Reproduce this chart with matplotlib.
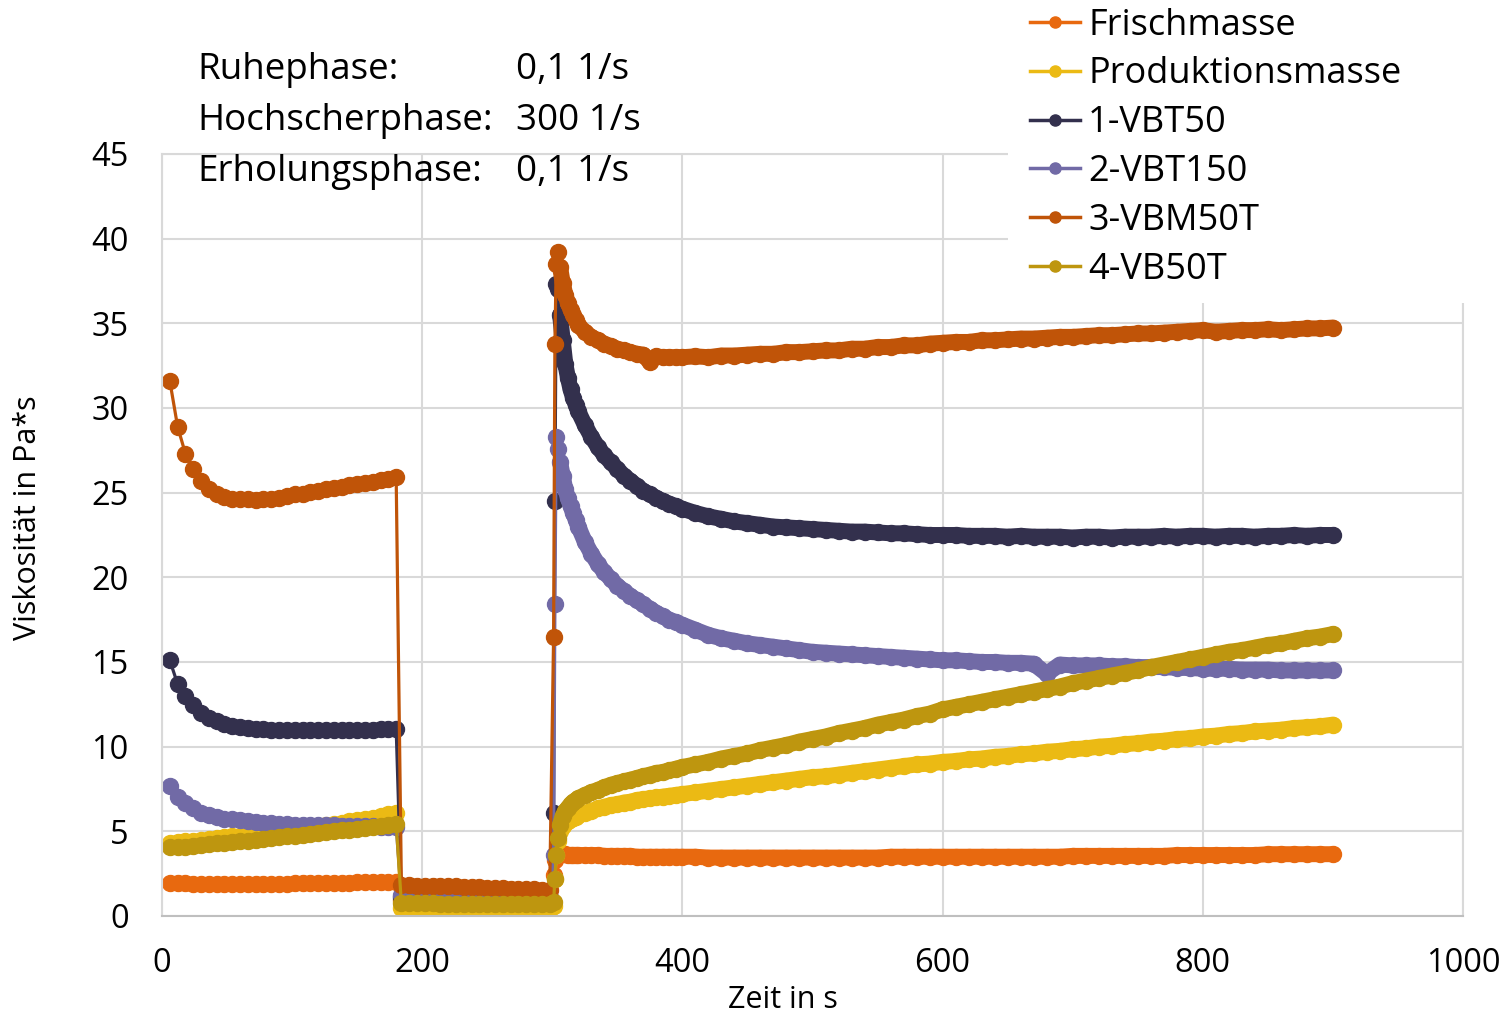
import matplotlib
matplotlib.use("Agg")
import matplotlib.pyplot as plt
from matplotlib.lines import Line2D
from matplotlib.patches import Rectangle

plt.rcParams["font.family"] = ["Open Sans", "DejaVu Sans"]

# Messzeitpunkte der drei Phasen (s)
t_ruhe = list(range(6, 181, 6))
t_hoch = list(range(184, 299, 6))
t_erh = ([301, 302, 303, 304, 306, 308, 310, 312, 314, 316, 318]
         + list(range(320, 400, 5)) + list(range(400, 901, 10)))
zeit = t_ruhe + t_hoch + t_erh

# Viskosität in Pa*s: Ruhephase, Hochscherphase, Erholungsphase
frischmasse = [
    1.95, 1.95, 1.95, 1.9, 1.9, 1.9, 1.9, 1.9, 1.9, 1.9,
    1.9, 1.9, 1.9, 1.9, 1.9, 1.9, 1.95, 1.95, 1.95, 1.95,
    1.95, 1.95, 1.95, 1.95, 2.0, 2.0, 2.0, 2.0, 2.0, 2.0,
    0.95, 0.95, 0.95, 0.9, 0.9, 0.9, 0.9, 0.9, 0.9, 0.9,
    0.9, 0.9, 0.85, 0.85, 0.85, 0.85, 0.85, 0.85, 0.85, 0.85,
    2.4, 3.3, 3.6, 3.65, 3.65, 3.65, 3.65, 3.6, 3.6, 3.6, 3.6,
    3.6, 3.6, 3.6, 3.6, 3.55, 3.55, 3.55, 3.55, 3.55, 3.5, 3.5, 3.5, 3.5, 3.5, 3.5, 3.5,
    3.5, 3.5,
    3.45, 3.45, 3.45, 3.45, 3.45, 3.45, 3.45, 3.45, 3.45, 3.45,
    3.45, 3.45, 3.45, 3.45, 3.5, 3.5, 3.5, 3.5, 3.5, 3.5,
    3.5, 3.5, 3.5, 3.5, 3.5, 3.5, 3.5, 3.5, 3.55, 3.55,
    3.55, 3.55, 3.55, 3.55, 3.55, 3.55, 3.6, 3.6, 3.6, 3.6,
    3.6, 3.6, 3.6, 3.65, 3.65, 3.65, 3.65, 3.65, 3.65,
]
produktionsmasse = [
    4.3, 4.35, 4.4, 4.45, 4.5, 4.55, 4.6, 4.65, 4.7, 4.75,
    4.8, 4.85, 4.9, 4.95, 5.0, 5.05, 5.1, 5.2, 5.25, 5.3,
    5.35, 5.45, 5.5, 5.6, 5.65, 5.75, 5.8, 5.9, 6.0, 6.1,
    0.45, 0.45, 0.45, 0.45, 0.45, 0.45, 0.45, 0.45, 0.4, 0.4,
    0.4, 0.4, 0.4, 0.4, 0.4, 0.4, 0.4, 0.4, 0.4, 0.4,
    0.6, 2.2, 3.6, 4.4, 5.0, 5.3, 5.5, 5.6, 5.7, 5.8, 5.85,
    5.95, 6.1, 6.2, 6.35, 6.45, 6.55, 6.6, 6.7, 6.75, 6.85, 6.9, 6.95, 7.0, 7.05, 7.1, 7.15,
    7.2, 7.3,
    7.4, 7.5, 7.6, 7.7, 7.8, 7.9, 8.0, 8.1, 8.2, 8.25,
    8.35, 8.45, 8.55, 8.65, 8.75, 8.85, 8.95, 9.0, 9.1, 9.15,
    9.25, 9.3, 9.4, 9.45, 9.55, 9.6, 9.7, 9.75, 9.85, 9.9,
    10.0, 10.05, 10.15, 10.2, 10.3, 10.35, 10.45, 10.5, 10.6, 10.65,
    10.75, 10.8, 10.9, 10.95, 11.0, 11.1, 11.15, 11.2, 11.3,
]
vbt50 = [
    15.1, 13.7, 13.0, 12.45, 12.0, 11.7, 11.5, 11.35, 11.25, 11.15,
    11.1, 11.05, 11.05, 11.0, 11.0, 11.0, 11.0, 11.0, 11.0, 11.0,
    11.0, 11.0, 11.0, 11.0, 11.0, 11.0, 11.0, 11.05, 11.05, 11.05,
    1.1, 1.1, 1.05, 1.05, 1.05, 1.05, 1.0, 1.0, 1.0, 1.0,
    1.0, 1.0, 1.0, 0.95, 0.95, 0.95, 0.95, 0.95, 0.95, 0.95,
    6.1, 24.5, 37.3, 37.0, 35.5, 34.0, 32.6, 31.8, 31.1, 30.6, 30.2,
    29.8, 29.0, 28.3, 27.7, 27.2, 26.8, 26.4, 26.0, 25.7, 25.4, 25.1, 24.9, 24.7, 24.5, 24.35, 24.2,
    24.05, 23.8,
    23.6, 23.45, 23.3, 23.2, 23.1, 23.0, 22.95, 22.9, 22.85, 22.8,
    22.75, 22.7, 22.7, 22.65, 22.6, 22.6, 22.55, 22.5, 22.5, 22.5,
    22.45, 22.45, 22.45, 22.4, 22.45, 22.4, 22.4, 22.4, 22.35, 22.4,
    22.4, 22.35, 22.4, 22.4, 22.4, 22.45, 22.4, 22.45, 22.45, 22.4,
    22.45, 22.45, 22.4, 22.45, 22.45, 22.5, 22.45, 22.5, 22.5,
]
vbt150 = [
    7.7, 7.05, 6.65, 6.35, 6.1, 5.95, 5.85, 5.75, 5.7, 5.65,
    5.6, 5.55, 5.5, 5.5, 5.45, 5.45, 5.4, 5.4, 5.4, 5.35,
    5.35, 5.35, 5.3, 5.3, 5.3, 5.3, 5.3, 5.25, 5.25, 5.25,
    1.25, 1.25, 1.2, 1.2, 1.2, 1.2, 1.15, 1.15, 1.15, 1.15,
    1.15, 1.1, 1.1, 1.1, 1.1, 1.1, 1.1, 1.1, 1.1, 1.1,
    3.6, 18.4, 28.3, 27.6, 26.8, 26.0, 25.2, 24.7, 24.2, 23.8, 23.4,
    23.0, 22.1, 21.4, 20.8, 20.3, 19.9, 19.5, 19.2, 18.9, 18.65, 18.4, 18.15, 17.9, 17.7, 17.5, 17.35,
    17.2, 16.9,
    16.6, 16.4, 16.25, 16.1, 16.0, 15.9, 15.8, 15.7, 15.6, 15.55,
    15.5, 15.45, 15.4, 15.35, 15.3, 15.25, 15.2, 15.15, 15.1, 15.1,
    15.05, 15.0, 15.0, 14.95, 14.95, 14.9, 14.3, 14.85, 14.8, 14.8,
    14.8, 14.75, 14.75, 14.7, 14.7, 14.7, 14.65, 14.65, 14.6, 14.6,
    14.6, 14.55, 14.55, 14.55, 14.5, 14.5, 14.5, 14.5, 14.5,
]
vbm50t = [
    31.6, 28.9, 27.3, 26.4, 25.7, 25.2, 24.9, 24.75, 24.65, 24.6,
    24.6, 24.55, 24.6, 24.65, 24.7, 24.8, 24.9, 24.95, 25.05, 25.1,
    25.2, 25.3, 25.35, 25.45, 25.5, 25.6, 25.65, 25.75, 25.8, 25.9,
    1.85, 1.85, 1.8, 1.8, 1.8, 1.75, 1.75, 1.75, 1.7, 1.7,
    1.7, 1.65, 1.65, 1.65, 1.6, 1.6, 1.6, 1.6, 1.55, 1.55,
    16.5, 33.8, 38.5, 39.2, 38.3, 37.4, 36.7, 36.2, 35.8, 35.5, 35.2,
    34.9, 34.5, 34.2, 34.0, 33.8, 33.65, 33.5, 33.4, 33.3, 33.2, 33.15, 32.7, 33.05, 33.0, 33.0, 33.0,
    33.0, 33.05,
    33.0, 33.1, 33.1, 33.15, 33.2, 33.2, 33.3, 33.3, 33.35, 33.4,
    33.4, 33.5, 33.5, 33.6, 33.6, 33.7, 33.7, 33.8, 33.85, 33.9,
    33.9, 34.0, 34.0, 34.05, 34.1, 34.1, 34.15, 34.2, 34.2, 34.25,
    34.3, 34.3, 34.35, 34.4, 34.4, 34.45, 34.5, 34.55, 34.6, 34.5,
    34.55, 34.6, 34.6, 34.65, 34.6, 34.65, 34.7, 34.7, 34.75,
]
vb50t = [
    4.05, 4.1, 4.1, 4.15, 4.2, 4.25, 4.3, 4.3, 4.35, 4.4,
    4.45, 4.5, 4.55, 4.6, 4.65, 4.7, 4.75, 4.8, 4.85, 4.9,
    4.95, 5.0, 5.05, 5.1, 5.15, 5.2, 5.25, 5.3, 5.4, 5.45,
    0.75, 0.75, 0.75, 0.75, 0.75, 0.7, 0.7, 0.7, 0.7, 0.7,
    0.7, 0.7, 0.7, 0.7, 0.7, 0.7, 0.7, 0.7, 0.7, 0.7,
    0.8, 2.2, 3.6, 4.6, 5.4, 5.9, 6.2, 6.4, 6.6, 6.75, 6.85,
    6.95, 7.15, 7.3, 7.45, 7.6, 7.75, 7.85, 7.95, 8.05, 8.15, 8.25, 8.35, 8.45, 8.5, 8.6, 8.7,
    8.8, 8.95,
    9.1, 9.3, 9.45, 9.6, 9.8, 9.95, 10.1, 10.3, 10.45, 10.6,
    10.8, 10.95, 11.1, 11.3, 11.45, 11.6, 11.8, 11.95, 12.2, 12.35,
    12.5, 12.65, 12.8, 12.95, 13.1, 13.25, 13.4, 13.55, 13.75, 13.9,
    14.05, 14.2, 14.35, 14.5, 14.7, 14.85, 15.0, 15.15, 15.3, 15.45,
    15.6, 15.7, 15.85, 16.0, 16.1, 16.25, 16.4, 16.5, 16.65,
]

namen = ["Frischmasse", "Produktionsmasse", "1-VBT50", "2-VBT150", "3-VBM50T", "4-VB50T"]
reihen = [frischmasse, produktionsmasse, vbt50, vbt150, vbm50t, vb50t]
farben = ["#E8690F", "#EBBA14", "#33304D", "#716AA6", "#C05408", "#BE960F"]

phasen = ["Ruhephase:", "Hochscherphase:", "Erholungsphase:"]
raten = ["0,1 1/s", "300 1/s", "0,1 1/s"]


def main():
    fig = plt.figure(figsize=(15.04, 10.16), dpi=100)
    ax = fig.add_axes([162 / 1504, 1 - 916 / 1016, 1301 / 1504, 762 / 1016])

    # ab 306 s liegen die Messpunkte so dicht, dass sie ein geschlossenes Band bilden
    start = len(t_ruhe) + len(t_hoch) + t_erh.index(306)
    for i, (name, werte, farbe) in enumerate(zip(namen, reihen, farben)):
        z = 2 + i * 0.1
        ax.plot(zeit, werte, color=farbe, lw=2.3, marker="o", ms=11.5,
                mfc=farbe, mec=farbe, label=name, zorder=z)
        ax.plot(zeit[start:], werte[start:], color=farbe, lw=11.5,
                solid_capstyle="round", solid_joinstyle="round", zorder=z)

    ax.set_xlim(0, 1000)
    ax.set_ylim(0, 45)
    ax.set_xticks(range(0, 1001, 200))
    ax.set_yticks(range(0, 46, 5))
    ax.grid(color="#D9D9D9", lw=1.5)
    ax.set_axisbelow(True)
    for seite in ["left", "right", "top"]:
        ax.spines[seite].set_color("#D9D9D9")
        ax.spines[seite].set_linewidth(1.5)
    ax.spines["bottom"].set_color("#BFBFBF")
    ax.spines["bottom"].set_linewidth(1.5)
    ax.tick_params(length=0, labelsize=23.5, colors="black")
    ax.tick_params(axis="y", pad=24)
    ax.tick_params(axis="x", pad=22)

    fig.text(783 / 1504, 1 - 1000 / 1016, "Zeit in s", ha="center", va="center", fontsize=22)
    fig.text(28 / 1504, 1 - 518 / 1016, "Viskosität in Pa*s", ha="center", va="center",
             rotation=90, fontsize=22)

    # Scherraten der Phasen oben links
    for i, (phase, rate) in enumerate(zip(phasen, raten)):
        y = 1 - (70 + 51 * i) / 1016
        fig.text(197 / 1504, y, phase, ha="left", va="center", fontsize=26.5)
        fig.text(516 / 1504, y, rate, ha="left", va="center", fontsize=26.5)

    # weiße Fläche hinter der Legende
    fig.patches.append(Rectangle((1008 / 1504, 1 - 303 / 1016), 496 / 1504, 303 / 1016,
                                 transform=fig.transFigure, facecolor="white",
                                 edgecolor="none", zorder=3))

    griffe = [Line2D([0], [0], color=f, lw=2.5, marker="o", ms=8, mfc=f, mec=f) for f in farben]
    fig.legend(griffe, namen, loc="upper left", bbox_to_anchor=(1008 / 1504, 1 + 14 / 1016),
               fontsize=26, frameon=False, handlelength=1.4,
               handletextpad=0.22, labelspacing=0.355, borderpad=0.6, borderaxespad=0)

    fig.savefig("out.png", dpi=100)


if __name__ == "__main__":
    main()
